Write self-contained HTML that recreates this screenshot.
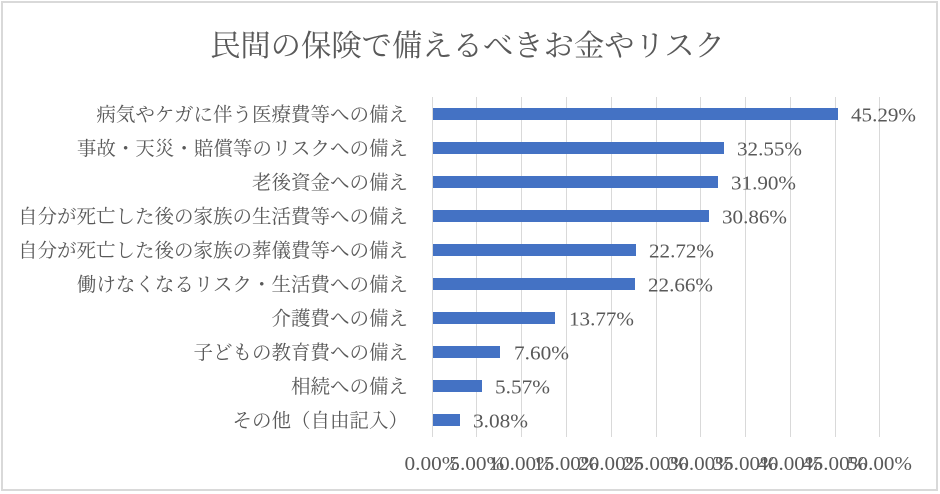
<!DOCTYPE html>
<html>
<head>
<meta charset="utf-8">
<style>
html,body{margin:0;padding:0;background:#fff;}
svg{display:block;}
.t{font-family:"Liberation Serif","Noto Serif CJK JP","Noto Serif CJK SC",serif;fill:#595959;}
</style>
</head>
<body>
<svg width="940" height="494" viewBox="0 0 940 494" xmlns="http://www.w3.org/2000/svg">
<rect x="0" y="0" width="940" height="494" fill="#fff"/>
<rect x="2" y="2" width="935" height="488" fill="#fff" stroke="#d9d9d9" stroke-width="2"/>

<text class="t" x="210" y="56" font-size="30" textLength="515" lengthAdjust="spacingAndGlyphs">民間の保険で備えるべきお金やリスク</text>

<g stroke="#d9d9d9" stroke-width="1">
<line x1="432.5" y1="97" x2="432.5" y2="437"/>
<line x1="476.5" y1="97" x2="476.5" y2="437"/>
<line x1="521.5" y1="97" x2="521.5" y2="437"/>
<line x1="566.5" y1="97" x2="566.5" y2="437"/>
<line x1="611.5" y1="97" x2="611.5" y2="437"/>
<line x1="656.5" y1="97" x2="656.5" y2="437"/>
<line x1="700.5" y1="97" x2="700.5" y2="437"/>
<line x1="745.5" y1="97" x2="745.5" y2="437"/>
<line x1="790.5" y1="97" x2="790.5" y2="437"/>
<line x1="835.5" y1="97" x2="835.5" y2="437"/>
<line x1="879.5" y1="97" x2="879.5" y2="437"/>
</g>

<g fill="#4472c4">
<rect x="433" y="108" width="405" height="12"/>
<rect x="433" y="142" width="291" height="12"/>
<rect x="433" y="176" width="285" height="12"/>
<rect x="433" y="210" width="276" height="12"/>
<rect x="433" y="244" width="203" height="12"/>
<rect x="433" y="278" width="202" height="12"/>
<rect x="433" y="312" width="122" height="12"/>
<rect x="433" y="346" width="67" height="12"/>
<rect x="433" y="380" width="49" height="12"/>
<rect x="433" y="414" width="27" height="12"/>
</g>

<g class="t" font-size="19.5" text-anchor="end">
<text x="408" y="121">病気やケガに伴う医療費等への備え</text>
<text x="408" y="155">事故・天災・賠償等のリスクへの備え</text>
<text x="408" y="189">老後資金への備え</text>
<text x="408" y="223">自分が死亡した後の家族の生活費等への備え</text>
<text x="408" y="257">自分が死亡した後の家族の葬儀費等への備え</text>
<text x="408" y="291">働けなくなるリスク・生活費への備え</text>
<text x="408" y="325">介護費への備え</text>
<text x="408" y="359">子どもの教育費への備え</text>
<text x="408" y="393">相続への備え</text>
<text x="408" y="427">その他（自由記入）</text>
</g>

<g class="t" font-size="20">
<text x="851" y="121.5" textLength="65" lengthAdjust="spacingAndGlyphs">45.29%</text>
<text x="737" y="155.5" textLength="65" lengthAdjust="spacingAndGlyphs">32.55%</text>
<text x="731" y="189.5" textLength="65" lengthAdjust="spacingAndGlyphs">31.90%</text>
<text x="722" y="223.5" textLength="65" lengthAdjust="spacingAndGlyphs">30.86%</text>
<text x="649" y="257.5" textLength="65" lengthAdjust="spacingAndGlyphs">22.72%</text>
<text x="648" y="291.5" textLength="65" lengthAdjust="spacingAndGlyphs">22.66%</text>
<text x="569" y="325.5" textLength="65" lengthAdjust="spacingAndGlyphs">13.77%</text>
<text x="514" y="359.5" textLength="55" lengthAdjust="spacingAndGlyphs">7.60%</text>
<text x="495" y="393.5" textLength="55" lengthAdjust="spacingAndGlyphs">5.57%</text>
<text x="473" y="427.5" textLength="55" lengthAdjust="spacingAndGlyphs">3.08%</text>
</g>

<g class="t" font-size="20">
<text x="404.5" y="470" textLength="55" lengthAdjust="spacingAndGlyphs">0.00%</text>
<text x="449.3" y="470" textLength="55" lengthAdjust="spacingAndGlyphs">5.00%</text>
<text x="488.6" y="470" textLength="65" lengthAdjust="spacingAndGlyphs">10.00%</text>
<text x="533.4" y="470" textLength="65" lengthAdjust="spacingAndGlyphs">15.00%</text>
<text x="578.2" y="470" textLength="65" lengthAdjust="spacingAndGlyphs">20.00%</text>
<text x="623.0" y="470" textLength="65" lengthAdjust="spacingAndGlyphs">25.00%</text>
<text x="667.8" y="470" textLength="65" lengthAdjust="spacingAndGlyphs">30.00%</text>
<text x="712.6" y="470" textLength="65" lengthAdjust="spacingAndGlyphs">35.00%</text>
<text x="757.4" y="470" textLength="65" lengthAdjust="spacingAndGlyphs">40.00%</text>
<text x="802.2" y="470" textLength="65" lengthAdjust="spacingAndGlyphs">45.00%</text>
<text x="847.0" y="470" textLength="65" lengthAdjust="spacingAndGlyphs">50.00%</text>
</g>
</svg>
</body>
</html>
